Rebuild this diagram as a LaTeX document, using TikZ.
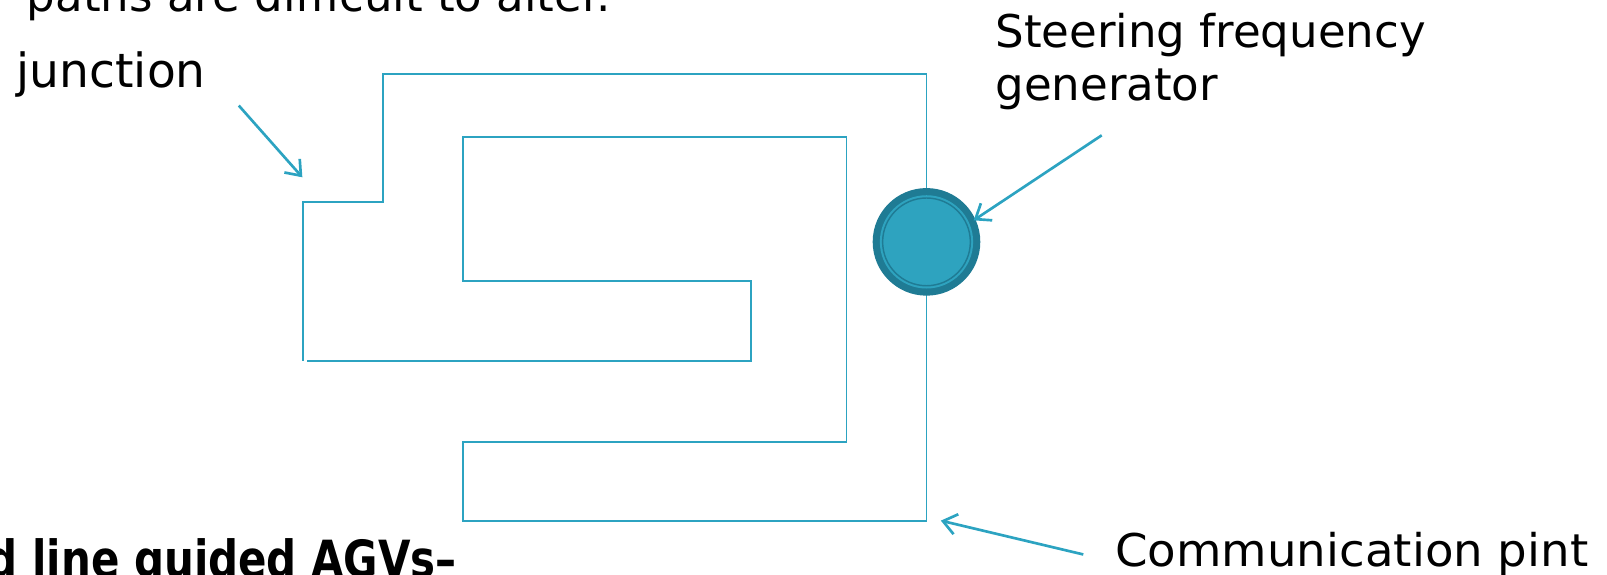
\documentclass[tikz,border=0pt]{standalone}
\usepackage{fontspec}
\setmainfont{DejaVu Sans}
\newfontfamily\boldcond{DejaVu Sans Condensed Bold}
\usetikzlibrary{arrows.meta}
\definecolor{wire}{HTML}{2CA3C1}
\definecolor{ringdark}{HTML}{1F7B94}
\definecolor{ringfill}{HTML}{2EA3BF}
\tikzset{
  wireline/.style={draw=wire, line width=1.7pt, line join=miter},
  pointer/.style={draw=wire, line width=2.6pt, -{Straight Barb[length=13pt,width=20pt,line width=2.6pt]}},
  lbl/.style={inner sep=0pt, font=\fontsize{44}{54}\selectfont, text=black},
}
\begin{document}
\begin{tikzpicture}[x=1pt,y=-1pt]
\useasboundingbox (0,0) rectangle (1568,561);
\clip (0,0) rectangle (1568,561);
% guide wire path
\draw[wireline] (296,352) -- (296,197) -- (374,197) -- (374,72) -- (904,72) -- (904,190);
\draw[wireline] (904,282) -- (904,508) -- (452,508) -- (452,431) -- (826,431) -- (826,134)
  -- (452,134) -- (452,274) -- (733,274) -- (733,352) -- (300,352);
% steering frequency generator
\fill[ringdark] (904,236) circle (52.5);
\fill[ringfill] (904,236) circle (45.5);
\draw[ringdark, line width=1.4pt] (904,236) circle (42.8);
\node[circle, minimum size=105pt, inner sep=0pt] (gen) at (904,236) {};
% labels
\node[lbl, anchor=base west] (top) at (26,11) {paths are difficult to alter.};
\node[lbl, anchor=base west, font=\fontsize{46}{54}\selectfont] (junc) at (16,85) {junction};
\node[lbl, anchor=base west] (steer1) at (971,46) {Steering frequency};
\node[lbl, anchor=base west] (steer2) at (971,98) {generator};
\node[lbl, anchor=base west] (comm) at (1088,553) {\scalebox{1.035}[1]{Communication pint}};
\node[lbl, anchor=base west, font=\fontsize{50}{60}\boldcond] (agv) at (-12,563) {\scalebox{0.91}[1]{d line guided AGVs–}};
% pointers
\coordinate (jfrom) at (233,103);
\coordinate (jto) at (295,173);
\coordinate (sfrom) at (1075,132);
\coordinate (sto) at (950,215);
\coordinate (cfrom) at (1057,541);
\coordinate (cto) at (918,508);
\draw[pointer] (jfrom) -- (jto);
\draw[pointer] (sfrom) -- (sto);
\draw[pointer] (cfrom) -- (cto);
\end{tikzpicture}
\end{document}
